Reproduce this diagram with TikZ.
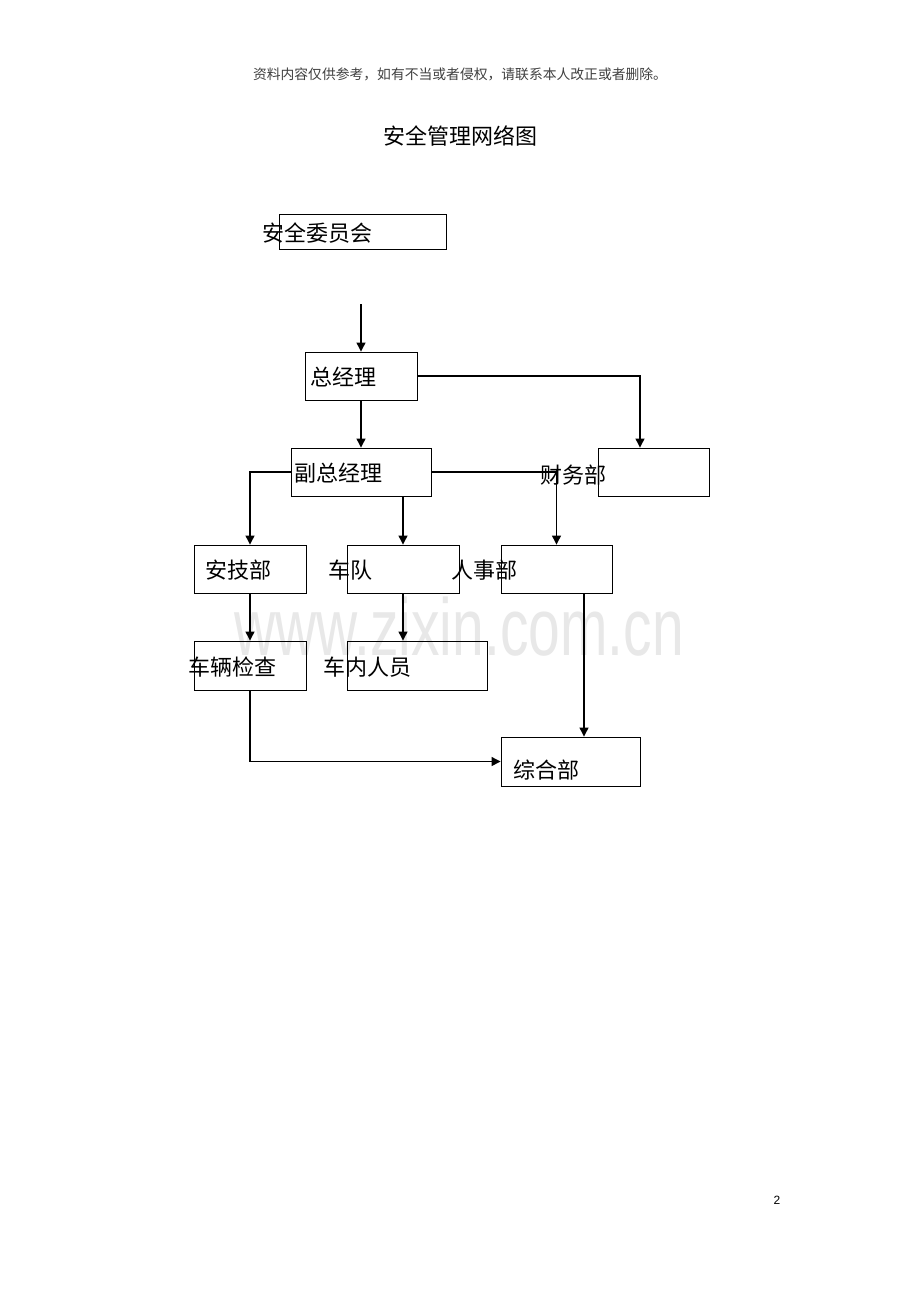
\documentclass[tikz,border=0pt]{standalone}
\usepackage{fontspec}
\newfontfamily\cjk{Noto Sans CJK SC}
\setmainfont{Liberation Sans}
\usetikzlibrary{arrows.meta}
\tikzset{>/.tip={Triangle[length=9pt,width=9pt]},
  box/.style={draw, line width=0.9pt, inner sep=0pt},
  lbl/.style={anchor=west, inner sep=0pt, font=\cjk\fontsize{22}{24}\selectfont},
  line/.style={line width=1.2pt}}

\begin{document}
\begin{tikzpicture}[x=1pt, y=-1pt]
\useasboundingbox[fill=white] (0,0) rectangle (920,1302);

% watermark and page text
\node[anchor=base, text=black!9, inner sep=0pt, font=\fontsize{57}{60}\selectfont] (wm) at (459,655) {\scalebox{1}[1.42]{www.zixin.com.cn}};
\node[inner sep=0pt, text=black!75, font=\cjk\fontsize{13.8}{15}\selectfont] (note) at (460,74) {资料内容仅供参考，如有不当或者侵权，请联系本人改正或者删除。};
\node[inner sep=0pt, font=\cjk\fontsize{22}{24}\selectfont] (title) at (460,136) {安全管理网络图};
\node[anchor=base, inner sep=0pt, font=\fontsize{12}{14}\selectfont] (page) at (777,1204) {2};

% boxes
\node[box, minimum width=167, minimum height=35] (wyh) at (362.5,231.5) {};
\node[box, minimum width=112, minimum height=48] (zjl) at (361,376) {};
\node[box, minimum width=140, minimum height=48] (fzjl) at (361,472) {};
\node[box, minimum width=111, minimum height=48] (cwb) at (653.5,472) {};
\node[box, minimum width=112, minimum height=48] (ajb) at (250,569) {};
\node[box, minimum width=112, minimum height=48] (cd) at (403,569) {};
\node[box, minimum width=111, minimum height=48] (rsb) at (556.5,569) {};
\node[box, minimum width=112, minimum height=49] (cljc) at (250,665.5) {};
\node[box, minimum width=140, minimum height=49] (cnry) at (417,665.5) {};
\node[box, minimum width=139, minimum height=49] (zhb) at (570.5,761.5) {};

% labels
\node[lbl] (wyh-t) at (262,233) {安全委员会};
\node[lbl] (zjl-t) at (310,377) {总经理};
\node[lbl] (fzjl-t) at (294,473) {副总经理};
\node[lbl] (cwb-t) at (540,475) {财务部};
\node[lbl] (ajb-t) at (205,570) {安技部};
\node[lbl] (cd-t) at (328,570) {车队};
\node[lbl] (rsb-t) at (451,570) {人事部};
\node[lbl] (cljc-t) at (188,667) {车辆检查};
\node[lbl] (cnry-t) at (323,667) {车内人员};
\node[lbl] (zhb-t) at (513,770) {综合部};

\coordinate (top) at (361,304);

\draw[line,->] (top) -- (zjl);
\draw[line,->] (zjl) -- (fzjl);
\draw[line,->] (zjl.east) -| ([xshift=-13.5pt]cwb.north);
\draw[line,->] (fzjl.west) -| (ajb);
\draw[line,->] (fzjl.south -| cd) -- (cd);
\draw[line,->] (fzjl.east) -| (rsb);
\draw[line,->] (ajb) -- (cljc);
\draw[line,->] (cd) -- (cd |- cnry.north);
\draw[line,->] (cljc) |- (zhb);
\draw[line,->] ([xshift=27.5pt]rsb.south) -- ([xshift=13.5pt]zhb.north);
\end{tikzpicture}
\end{document}
